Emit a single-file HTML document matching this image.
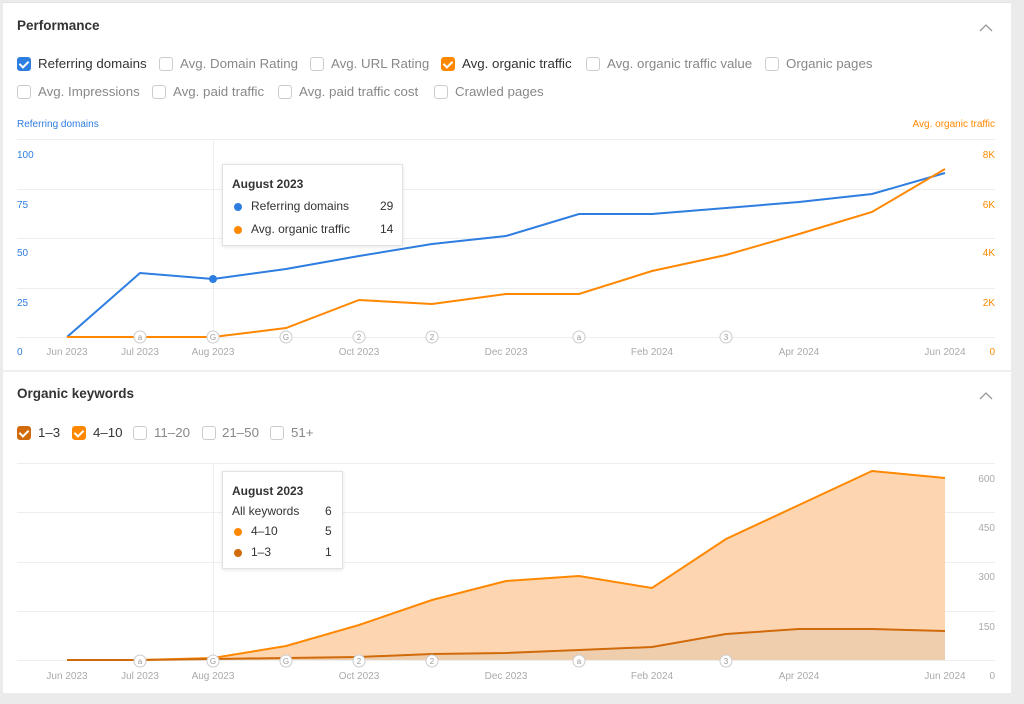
<!DOCTYPE html>
<html><head><meta charset="utf-8"><style>
body{margin:0;width:1024px;height:704px;background:#ebebeb;font-family:"Liberation Sans",sans-serif;position:relative;overflow:hidden}
.card{position:absolute;left:3px;top:2px;width:1008px;height:691px;background:#fff}
.t{position:absolute;white-space:nowrap}
.cb{position:absolute;width:12px;height:12px;border:1px solid #ccc;border-radius:3px;background:#fff}
.cb.on{border-color:#2e7de0;background:#2e7de0}
.cb.or{border-color:#ff8800;background:#ff8800}
.cb.dk{border-color:#d06a0a;background:#d06a0a}
.cb.on::after,.cb.or::after,.cb.dk::after{content:"";position:absolute;left:3px;top:1px;width:4px;height:7px;border:solid #fff;border-width:0 2px 2px 0;transform:rotate(45deg)}
.lbl{font-size:13.3px;color:#888}
.tip{position:absolute;background:#fff;border:1px solid #e2e2e2;box-shadow:0 1px 4px rgba(0,0,0,.1);font-size:12px;color:#333}
</style></head><body>
<div class="card"></div>
<div style="position:absolute;left:3px;top:2px;width:1008px;height:1px;background:#e4e4e4"></div>
<div style="position:absolute;left:3px;top:370px;width:1008px;height:2px;background:#f0f0f0"></div>

<div class="t" style="left:17px;top:18px;font-size:13.5px;font-weight:bold;color:#333">Performance</div>
<div class="t" style="left:17px;top:386px;font-size:13.5px;font-weight:bold;color:#333">Organic keywords</div>

<div class="cb on" style="left:17px;top:57px"></div><div class="t lbl" style="left:38px;top:56px;color:#333">Referring domains</div>
<div class="cb" style="left:159px;top:57px"></div><div class="t lbl" style="left:180px;top:56px">Avg. Domain Rating</div>
<div class="cb" style="left:310px;top:57px"></div><div class="t lbl" style="left:331px;top:56px">Avg. URL Rating</div>
<div class="cb or" style="left:441px;top:57px"></div><div class="t lbl" style="left:462px;top:56px;color:#333">Avg. organic traffic</div>
<div class="cb" style="left:586px;top:57px"></div><div class="t lbl" style="left:607px;top:56px">Avg. organic traffic value</div>
<div class="cb" style="left:765px;top:57px"></div><div class="t lbl" style="left:786px;top:56px">Organic pages</div>
<div class="cb" style="left:17px;top:85px"></div><div class="t lbl" style="left:38px;top:84px">Avg. Impressions</div>
<div class="cb" style="left:152px;top:85px"></div><div class="t lbl" style="left:173px;top:84px">Avg. paid traffic</div>
<div class="cb" style="left:278px;top:85px"></div><div class="t lbl" style="left:299px;top:84px">Avg. paid traffic cost</div>
<div class="cb" style="left:434px;top:85px"></div><div class="t lbl" style="left:455px;top:84px">Crawled pages</div>

<div class="cb dk" style="left:17px;top:426px"></div><div class="t lbl" style="left:38px;top:425px;color:#333">1–3</div>
<div class="cb or" style="left:72px;top:426px"></div><div class="t lbl" style="left:93px;top:425px;color:#333">4–10</div>
<div class="cb" style="left:133px;top:426px"></div><div class="t lbl" style="left:154px;top:425px">11–20</div>
<div class="cb" style="left:202px;top:426px"></div><div class="t lbl" style="left:222px;top:425px">21–50</div>
<div class="cb" style="left:270px;top:426px"></div><div class="t lbl" style="left:291px;top:425px">51+</div>

<svg style="position:absolute;left:0;top:0" width="1024" height="704" font-family="Liberation Sans, sans-serif">
<g fill="none" stroke="#999" stroke-width="1.3"><path d="M980 31l6-6 6 6"/><path d="M980 399l6-6 6 6"/></g>
<g stroke="#eee" stroke-width="1">
<line x1="17" x2="995" y1="139.5" y2="139.5"/><line x1="17" x2="995" y1="189.5" y2="189.5"/><line x1="17" x2="995" y1="238.5" y2="238.5"/><line x1="17" x2="995" y1="288.5" y2="288.5"/><line x1="17" x2="995" y1="337.5" y2="337.5"/>
<line x1="17" x2="995" y1="463.5" y2="463.5"/><line x1="17" x2="995" y1="512.5" y2="512.5"/><line x1="17" x2="995" y1="562.5" y2="562.5"/><line x1="17" x2="995" y1="611.5" y2="611.5"/><line x1="17" x2="995" y1="660.5" y2="660.5"/>
<line x1="213.5" x2="213.5" y1="140" y2="337"/><line x1="213.5" x2="213.5" y1="463" y2="660"/>
</g>
<g font-size="10" fill="#2e7de0"><text x="17" y="127">Referring domains</text><text x="17" y="158">100</text><text x="17" y="208">75</text><text x="17" y="256">50</text><text x="17" y="306">25</text><text x="17" y="355">0</text></g>
<g font-size="10" fill="#ff8800" text-anchor="end"><text x="995" y="127">Avg. organic traffic</text><text x="995" y="158">8K</text><text x="995" y="208">6K</text><text x="995" y="256">4K</text><text x="995" y="306">2K</text><text x="995" y="355">0</text></g>
<g font-size="10" fill="#aaa" text-anchor="end"><text x="995" y="482">600</text><text x="995" y="531">450</text><text x="995" y="580">300</text><text x="995" y="630">150</text><text x="995" y="679">0</text></g>
<g font-size="10" fill="#aaa" text-anchor="middle">
<text x="67" y="355">Jun 2023</text><text x="140" y="355">Jul 2023</text><text x="213" y="355">Aug 2023</text><text x="359" y="355">Oct 2023</text><text x="506" y="355">Dec 2023</text><text x="652" y="355">Feb 2024</text><text x="799" y="355">Apr 2024</text><text x="945" y="355">Jun 2024</text>
<text x="67" y="679">Jun 2023</text><text x="140" y="679">Jul 2023</text><text x="213" y="679">Aug 2023</text><text x="359" y="679">Oct 2023</text><text x="506" y="679">Dec 2023</text><text x="652" y="679">Feb 2024</text><text x="799" y="679">Apr 2024</text><text x="945" y="679">Jun 2024</text>
</g>
<path d="M67 660L140 660 213 658 286 646 359 625 432 600 506 581 579 576 652 588 726 539 799 505 872 471 945 478 945 660Z" fill="#fdd6b1"/>
<path d="M67 660L140 660 213 659 286 658 359 657 432 654 506 653 579 650 652 647 726 634 799 629 872 629 945 631 945 660Z" fill="#efceae"/>
<path d="M67 660L140 660 213 658 286 646 359 625 432 600 506 581 579 576 652 588 726 539 799 505 872 471 945 478" fill="none" stroke="#ff8800" stroke-width="2"/>
<path d="M67 660L140 660 213 659 286 658 359 657 432 654 506 653 579 650 652 647 726 634 799 629 872 629 945 631" fill="none" stroke="#d06a0a" stroke-width="2"/>
<path d="M67 337L140 273 213 279 286 269 359 256 432 244 506 236 579 214 652 214 726 208 799 202 872 194 945 173" fill="none" stroke="#2e7de0" stroke-width="2"/>
<path d="M67 337L140 337 213 337 286 328 359 300 432 304 506 294 579 294 652 271 726 255 799 234 872 212 945 169" fill="none" stroke="#ff8800" stroke-width="2"/>
<circle cx="213" cy="279" r="4" fill="#2e7de0"/>
<g font-size="8" fill="#999" text-anchor="middle">
<g><circle cx="140" cy="337" r="6" fill="#fff" stroke="#ccc"/><text x="140" y="340">a</text></g>
<g><circle cx="213" cy="337" r="6" fill="#fff" stroke="#ccc"/><text x="213" y="340">G</text></g>
<g><circle cx="286" cy="337" r="6" fill="#fff" stroke="#ccc"/><text x="286" y="340">G</text></g>
<g><circle cx="359" cy="337" r="6" fill="#fff" stroke="#ccc"/><text x="359" y="340">2</text></g>
<g><circle cx="432" cy="337" r="6" fill="#fff" stroke="#ccc"/><text x="432" y="340">2</text></g>
<g><circle cx="579" cy="337" r="6" fill="#fff" stroke="#ccc"/><text x="579" y="340">a</text></g>
<g><circle cx="726" cy="337" r="6" fill="#fff" stroke="#ccc"/><text x="726" y="340">3</text></g>
<g><circle cx="140" cy="661" r="6" fill="#fff" stroke="#ccc"/><text x="140" y="664">a</text></g>
<g><circle cx="213" cy="661" r="6" fill="#fff" stroke="#ccc"/><text x="213" y="664">G</text></g>
<g><circle cx="286" cy="661" r="6" fill="#fff" stroke="#ccc"/><text x="286" y="664">G</text></g>
<g><circle cx="359" cy="661" r="6" fill="#fff" stroke="#ccc"/><text x="359" y="664">2</text></g>
<g><circle cx="432" cy="661" r="6" fill="#fff" stroke="#ccc"/><text x="432" y="664">2</text></g>
<g><circle cx="579" cy="661" r="6" fill="#fff" stroke="#ccc"/><text x="579" y="664">a</text></g>
<g><circle cx="726" cy="661" r="6" fill="#fff" stroke="#ccc"/><text x="726" y="664">3</text></g>
</g>
</svg>

<div class="tip" style="left:222px;top:164px;width:179px;height:80px">
<div class="t" style="left:9px;top:12px;font-weight:bold">August 2023</div>
<div class="t" style="left:11px;top:38px;width:8px;height:8px;border-radius:50%;background:#2e7de0"></div>
<div class="t" style="left:28px;top:34px">Referring domains</div><div class="t" style="left:157px;top:34px">29</div>
<div class="t" style="left:11px;top:61px;width:8px;height:8px;border-radius:50%;background:#ff8800"></div>
<div class="t" style="left:28px;top:57px">Avg. organic traffic</div><div class="t" style="left:157px;top:57px">14</div>
</div>
<div class="tip" style="left:222px;top:471px;width:119px;height:96px">
<div class="t" style="left:9px;top:12px;font-weight:bold">August 2023</div>
<div class="t" style="left:9px;top:32px">All keywords</div><div class="t" style="left:102px;top:32px">6</div>
<div class="t" style="left:11px;top:56px;width:8px;height:8px;border-radius:50%;background:#ff8800"></div>
<div class="t" style="left:28px;top:52px">4–10</div><div class="t" style="left:102px;top:52px">5</div>
<div class="t" style="left:11px;top:77px;width:8px;height:8px;border-radius:50%;background:#d06a0a"></div>
<div class="t" style="left:28px;top:73px">1–3</div><div class="t" style="left:102px;top:73px">1</div>
</div>
</body></html>
